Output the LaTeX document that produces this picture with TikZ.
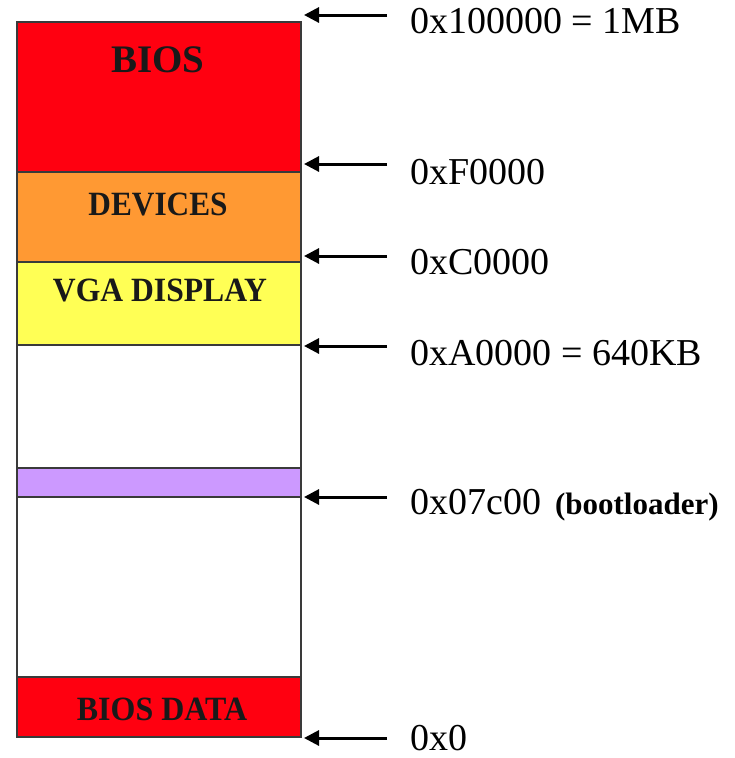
\documentclass[tikz,border=0pt]{standalone}
\usepackage{fontspec}
\setmainfont{Liberation Serif}
\usetikzlibrary{arrows.meta}
\definecolor{biosred}{HTML}{FF0010}
\definecolor{devorange}{HTML}{FF9933}
\definecolor{vgayellow}{HTML}{FFFF55}
\definecolor{bootpurple}{HTML}{CC99FF}
\definecolor{edgegray}{HTML}{3A3A3A}
\tikzset{
  region/.style={draw=edgegray, line width=1.4pt, anchor=north west,
    minimum width=284pt, inner sep=0pt, outer sep=0pt},
  boxlabel/.style={anchor=base, inner sep=0pt, text=black!90,
    font=\fontsize{34}{34}\selectfont\bfseries},
  addr/.style={anchor=base west, inner sep=0pt,
    font=\fontsize{38}{38}\selectfont},
  addrarrow/.style={draw=black, line width=3pt,
    -{Triangle[length=15pt,width=15pt]}}
}
\begin{document}
\begin{tikzpicture}[x=1pt,y=-1pt]
\useasboundingbox (0,0) rectangle (735,758);
% memory regions
\node[region, fill=biosred,    minimum height=150pt] (bios)  at (17,22)  {};
\node[region, fill=devorange,  minimum height=90pt]  (dev)   at (17,172) {};
\node[region, fill=vgayellow,  minimum height=83pt]  (vga)   at (17,262) {};
\node[region, fill=white,      minimum height=123pt] (free1) at (17,345) {};
\node[region, fill=bootpurple, minimum height=29pt]  (boot)  at (17,468) {};
\node[region, fill=white,      minimum height=180pt] (free2) at (17,497) {};
\node[region, fill=biosred,    minimum height=60pt]  (bdata) at (17,677) {};
% region labels
\node[boxlabel, font=\fontsize{39}{39}\selectfont\bfseries] (biosl) at (158,72) {BIOS};
\node[boxlabel, xscale=0.92] (devl)  at (158,215) {DEVICES};
\node[boxlabel, xscale=0.93] (vgal)  at (160,301) {VGA DISPLAY};
\node[boxlabel, xscale=0.94] (bdatal) at (162,720) {BIOS DATA};
% address labels
\node[addr] (a1) at (410,33)  {0x100000 = 1MB};
\node[addr] (a2) at (410,184) {0xF0000};
\node[addr] (a3) at (410,274) {0xC0000};
\node[addr] (a4) at (410,365) {0xA0000 = 640KB};
\node[addr] (a5) at (410,514) {0x07c00\hspace{14pt}{\fontsize{31}{31}\selectfont\bfseries (bootloader)}};
\node[addr] (a6) at (410,750) {0x0};
% arrow ends
\coordinate (s1) at (387,15);  \coordinate (e1) at (304,15);
\coordinate (s2) at (387,164); \coordinate (e2) at (304,164);
\coordinate (s3) at (387,256); \coordinate (e3) at (304,256);
\coordinate (s4) at (387,346); \coordinate (e4) at (304,346);
\coordinate (s5) at (387,497); \coordinate (e5) at (304,497);
\coordinate (s6) at (387,738); \coordinate (e6) at (304,738);
\draw[addrarrow] (s1) -- (e1);
\draw[addrarrow] (s2) -- (e2);
\draw[addrarrow] (s3) -- (e3);
\draw[addrarrow] (s4) -- (e4);
\draw[addrarrow] (s5) -- (e5);
\draw[addrarrow] (s6) -- (e6);
\end{tikzpicture}
\end{document}
